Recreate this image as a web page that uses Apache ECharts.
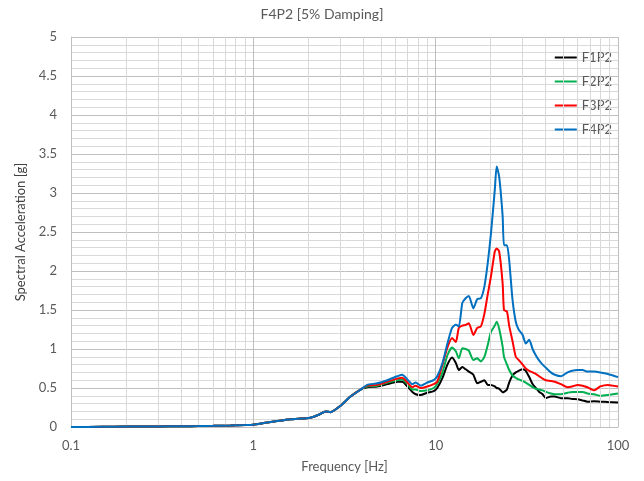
<!DOCTYPE html>
<html>
<head>
<meta charset="utf-8">
<style>
  html, body { margin: 0; padding: 0; background: #ffffff; }
  #chart { width: 644px; height: 481px; }
</style>
<script src="https://cdn.jsdelivr.net/npm/echarts@6/dist/echarts.min.js"></script>
</head>
<body>
<div id="chart"></div>
<script>
// Response spectrum, 5% damping: frequency [Hz] vs spectral acceleration [g]
const freq = [0.1, 0.15, 0.2, 0.3, 0.4, 0.5, 0.6, 0.75, 0.9, 1.0,
  1.14, 1.3, 1.6, 2.06, 2.3, 2.49, 2.65, 3.0, 3.41, 3.87,
  4.21, 4.78, 5.43, 6.16, 6.56, 7.0, 7.45, 7.77, 8.27, 9.0, 9.75,
  10.2, 10.9, 11.6, 12.3, 12.9, 13.4, 14.0, 14.6, 15.2, 16.1, 16.9, 17.7, 18.5, 19.3,
  20.1, 21.1, 21.6, 22.3, 23.3, 23.7, 24.6, 25.3, 26.4, 27.5, 28.5, 30.0, 31.2, 32.6,
  34.0, 35.4, 37.0, 38.6, 40.2, 42.8, 45.0, 48.6, 52.9, 56.0, 60.0, 64.0, 68.0, 74.0,
  80.0, 88.0, 100.0];

const lowPart = [0.0, 0.003, 0.005, 0.008, 0.01, 0.012, 0.015, 0.02, 0.025, 0.03,
  0.05, 0.07, 0.10, 0.12, 0.16, 0.20, 0.19, 0.27, 0.39, 0.48];

const f1p2 = lowPart.concat([
  0.51, 0.52, 0.55, 0.58, 0.58, 0.52, 0.45, 0.42, 0.41, 0.44, 0.46,
  0.50, 0.63, 0.80, 0.89, 0.82, 0.73, 0.77, 0.74, 0.71, 0.67, 0.56, 0.58, 0.60, 0.54,
  0.54, 0.52, 0.50, 0.49, 0.445, 0.45, 0.48, 0.57, 0.66, 0.70, 0.72, 0.74, 0.72, 0.64,
  0.55, 0.50, 0.45, 0.42, 0.37, 0.39, 0.39, 0.37, 0.37, 0.36, 0.355, 0.34, 0.325, 0.33,
  0.325, 0.32, 0.315]);

const f2p2 = lowPart.concat([
  0.52, 0.53, 0.57, 0.60, 0.61, 0.55, 0.48, 0.48, 0.46, 0.47, 0.50,
  0.55, 0.70, 0.92, 1.02, 0.97, 0.88, 1.01, 1.00, 0.98, 0.86, 0.88, 0.84, 0.90, 1.05,
  1.22, 1.30, 1.35, 1.26, 1.03, 0.90, 0.80, 0.73, 0.66, 0.63, 0.61, 0.59, 0.57, 0.54,
  0.51, 0.49, 0.48, 0.47, 0.45, 0.43, 0.42, 0.42, 0.44, 0.45, 0.45, 0.45, 0.43, 0.42,
  0.40, 0.41, 0.43]);

const f3p2 = lowPart.concat([
  0.53, 0.54, 0.58, 0.62, 0.63, 0.57, 0.51, 0.53, 0.50, 0.52, 0.55,
  0.58, 0.80, 1.02, 1.14, 1.09, 1.27, 1.30, 1.31, 1.33, 1.18, 1.27, 1.29, 1.45, 1.70,
  1.93, 2.25, 2.29, 2.25, 1.84, 1.50, 1.48, 1.30, 1.10, 0.90, 0.86, 0.80, 0.75, 0.72,
  0.70, 0.68, 0.65, 0.62, 0.60, 0.59, 0.58, 0.55, 0.51, 0.52, 0.54, 0.53, 0.51, 0.47,
  0.52, 0.54, 0.52]);

const f4p2 = lowPart.concat([
  0.54, 0.56, 0.60, 0.65, 0.67, 0.61, 0.55, 0.57, 0.53, 0.57, 0.60,
  0.65, 0.82, 1.07, 1.27, 1.31, 1.29, 1.59, 1.65, 1.68, 1.52, 1.64, 1.65, 1.80, 2.10,
  2.48, 3.04, 3.34, 3.21, 2.70, 2.33, 2.33, 2.14, 1.63, 1.35, 1.25, 1.18, 1.07, 1.12,
  1.00, 0.92, 0.85, 0.80, 0.76, 0.70, 0.67, 0.65, 0.70, 0.72, 0.73, 0.73, 0.71, 0.71,
  0.70, 0.68, 0.64]);

const seriesNames = ['F1P2', 'F2P2', 'F3P2', 'F4P2'];
const seriesValues = [f1p2, f2p2, f3p2, f4p2];
const seriesColors = ['#000000', '#00b050', '#ff0000', '#0070c0'];

// Intermediate log-decade gridlines (2..9 within each decade)
const minorFreqs = [];
[0.1, 1, 10].forEach(function (d) {
  for (let k = 2; k <= 9; k++) minorFreqs.push(+(d * k).toPrecision(3));
});

const font = 'Lato, "Open Sans", sans-serif';
const textGray = '#595959';

const series = seriesNames.map(function (name, i) {
  return {
    name: name,
    type: 'line',
    data: freq.map(function (f, j) { return [f, seriesValues[i][j]]; }),
    showSymbol: false,
    symbol: 'none',
    smooth: 0.2,
    lineStyle: { color: seriesColors[i], width: 2 },
    itemStyle: { color: seriesColors[i] },
    z: 3 + i
  };
});

series.unshift({
  name: 'grid-minor',
  type: 'line',
  data: [],
  silent: true,
  z: 1,
  markLine: {
    silent: true,
    symbol: ['none', 'none'],
    label: { show: false },
    animation: false,
    lineStyle: { color: '#d9d9d9', width: 1, type: 'solid' },
    emphasis: { disabled: true },
    data: minorFreqs.map(function (f) { return { xAxis: f }; })
  }
});

const chart = echarts.init(document.getElementById('chart'), null, { renderer: 'canvas' });
chart.setOption({
  animation: false,
  backgroundColor: '#ffffff',
  title: {
    text: 'F4P2 [5% Damping]',
    left: 'center',
    top: 2,
    textStyle: { fontFamily: font, fontSize: 14, fontWeight: 'normal', color: textGray }
  },
  legend: {
    data: seriesNames,
    orient: 'vertical',
    right: 27,
    top: 46,
    itemWidth: 22,
    itemHeight: 2,
    itemGap: 11,
    icon: 'rect',
    textStyle: { fontFamily: font, fontSize: 13, color: textGray }
  },
  grid: { left: 71, right: 26, top: 37, bottom: 54, containLabel: false },
  xAxis: {
    type: 'log',
    logBase: 10,
    min: 0.1,
    max: 100,
    name: 'Frequency [Hz]',
    nameLocation: 'middle',
    nameGap: 33,
    nameTextStyle: { fontFamily: font, fontSize: 13, color: textGray },
    axisLine: { show: true, onZero: false, lineStyle: { color: '#bfbfbf' } },
    axisTick: { show: false },
    axisLabel: {
      fontFamily: font, fontSize: 13, color: textGray, margin: 12,
      formatter: function (v) { return String(+v.toPrecision(3)); }
    },
    splitLine: { show: true, lineStyle: { color: '#bfbfbf', width: 1 } }
  },
  yAxis: {
    type: 'value',
    min: 0,
    max: 5,
    interval: 0.5,
    name: 'Spectral Acceleration [g]',
    nameLocation: 'middle',
    nameGap: 44,
    nameTextStyle: { fontFamily: font, fontSize: 13, color: '#404040' },
    axisLine: { show: true, lineStyle: { color: '#bfbfbf' } },
    axisTick: { show: false },
    axisLabel: { fontFamily: font, fontSize: 13, color: textGray, margin: 14 },
    splitLine: { show: true, lineStyle: { color: '#bfbfbf', width: 1 } },
    minorTick: { show: false, splitNumber: 5 },
    minorSplitLine: { show: true, lineStyle: { color: '#d9d9d9', width: 1 } }
  },
  series: series
});
</script>
</body>
</html>
